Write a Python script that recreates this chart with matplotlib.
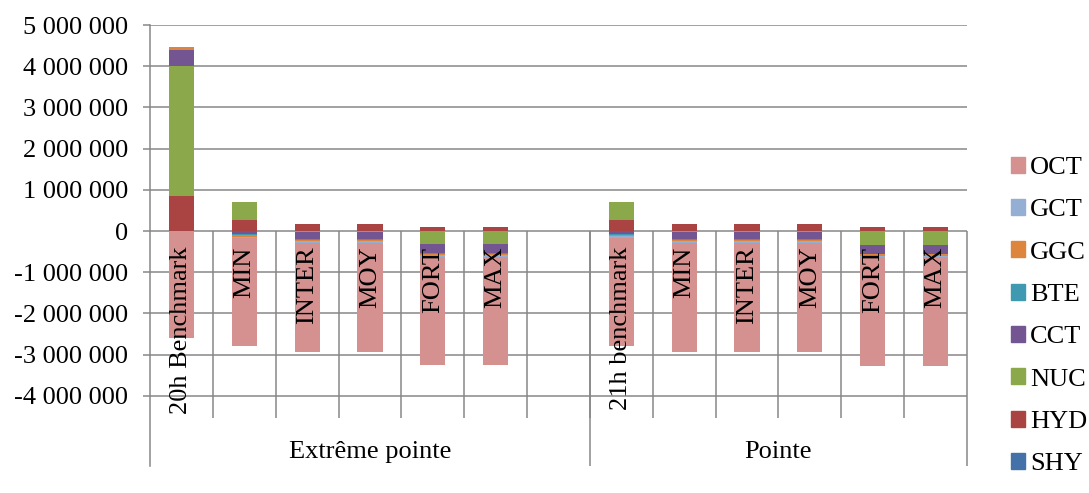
import numpy as np
import matplotlib.pyplot as plt
from matplotlib.patches import Patch
from matplotlib.ticker import FuncFormatter

plt.rcParams['font.family'] = ['Liberation Serif', 'DejaVu Serif']

categories = ["20h Benchmark", "MIN", "INTER", "MOY", "FORT", "MAX", "",
              "21h benchmark", "MIN", "INTER", "MOY", "FORT", "MAX"]
groups = ["Extrême pointe", "Pointe"]
group_sizes = [7, 6]

# series in stacking order (first = closest to zero)
SHY = [0, 0, 0, 0, 0, 0, 0, 0, 0, 0, 0, 0, 0]
HYD = [850000, 270000, 160000, 160000, 100000, 100000, 0,
       270000, 170000, 170000, 170000, 90000, 90000]
NUC = [3150000, 440000, -30000, -30000, -320000, -320000, 0,
       440000, -30000, -30000, -30000, -330000, -330000]
CCT = [390000, -80000, -170000, -170000, -220000, -220000, 0,
       -80000, -170000, -170000, -170000, -220000, -220000]
BTE = [0, -10000, -10000, -10000, -10000, -10000, 0,
       -10000, -10000, -10000, -10000, -10000, -10000]
GGC = [80000, -50000, -40000, -40000, -40000, -40000, 0,
       -40000, -40000, -40000, -40000, -40000, -40000]
GCT = [0, -30000, -30000, -30000, -30000, -30000, 0,
       -30000, -30000, -30000, -30000, -30000, -30000]
OCT = [-2600000, -2620000, -2660000, -2660000, -2640000, -2640000, 0,
       -2620000, -2660000, -2660000, -2660000, -2640000, -2640000]

series = [("SHY", SHY, "#4471A8"), ("HYD", HYD, "#A94442"), ("NUC", NUC, "#8BA84B"),
          ("CCT", CCT, "#735591"), ("BTE", BTE, "#3F9AB1"), ("GGC", GGC, "#DD843D"),
          ("GCT", GCT, "#95AED4"), ("OCT", OCT, "#D49190")]

grid_col = "#878787"
fig = plt.figure(figsize=(10.89, 4.93), dpi=100)
ax = fig.add_axes([150/1089, 1-466/493, (967-150)/1089, (466-25)/493])

x = np.arange(len(categories))
pos_bot = np.zeros(len(x))
neg_bot = np.zeros(len(x))
for name, vals, col in series:
    v = np.array(vals, dtype=float)
    bottom = np.where(v >= 0, pos_bot, neg_bot)
    ax.bar(x, v, 0.4, bottom=bottom, color=col, zorder=3)
    pos_bot += np.where(v >= 0, v, 0)
    neg_bot += np.where(v < 0, v, 0)

ymin = -(466-231)/41.2*1e6
ax.set_xlim(-0.5, len(x)-0.5)
ax.set_ylim(ymin, 5e6)
ax.set_yticks(np.arange(-4e6, 5.1e6, 1e6))
ax.yaxis.set_major_formatter(FuncFormatter(lambda v, p: f"{int(v):,}".replace(",", " ")))
ax.set_xticks([])
ax.yaxis.grid(True, color=grid_col, lw=1.1, zorder=1)
ax.set_axisbelow(True)
for s in ["top", "right", "bottom"]:
    ax.spines[s].set_visible(False)
ax.spines["left"].set_color(grid_col)
ax.spines["left"].set_linewidth(1.1)
ax.tick_params(axis="y", direction="out", length=5, width=1.1, color=grid_col,
               labelsize=19, pad=11)

# category separators
sep_low = -(418-231)/41.2*1e6
ax.vlines(np.arange(0.5, len(x)-0.5), sep_low, 0, color=grid_col, lw=1.1, zorder=2)
edges = np.cumsum(group_sizes) - 0.5
ax.vlines(edges, ymin, 0, color=grid_col, lw=1.1, zorder=2, clip_on=False)

for i, c in enumerate(x):
    ax.text(c, -0.38e6, categories[i], rotation=90, ha="center", va="top",
            fontsize=19, zorder=5)

start = -0.5
for g, n in zip(groups, group_sizes):
    ax.text(start + n/2, -(452-231)/41.2*1e6, g, ha="center", va="center", fontsize=19)
    start += n

handles = [Patch(color=col, label=name) for name, vals, col in series][::-1]
fig.legend(handles=handles, loc="center left", bbox_to_anchor=(1000/1089, 1-316/493),
           frameon=False, fontsize=19, handlelength=0.55, handleheight=0.55,
           handletextpad=0.2, labelspacing=0.76, borderaxespad=0)

fig.savefig("out.png", dpi=100)
